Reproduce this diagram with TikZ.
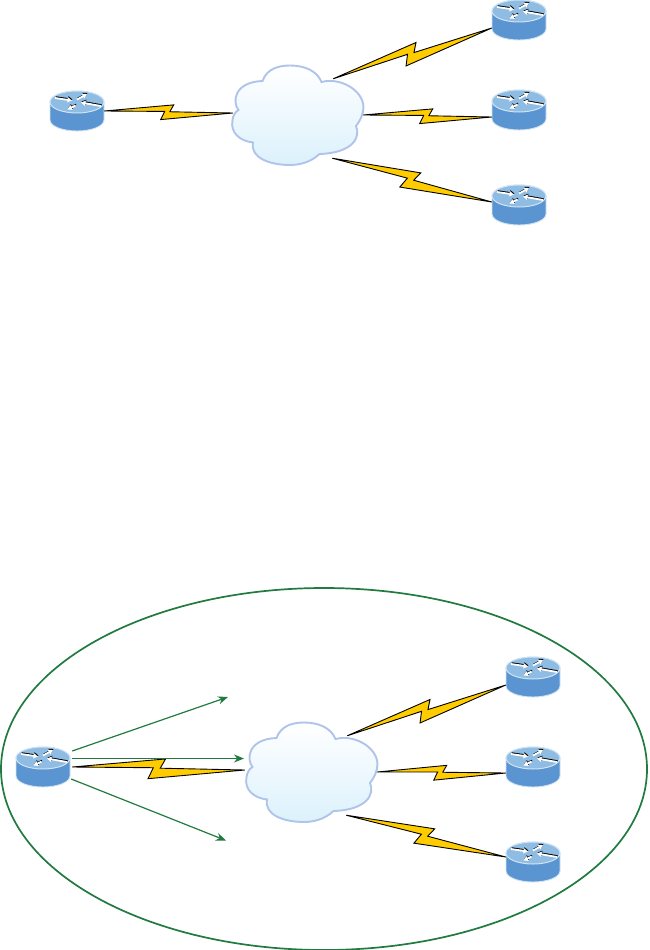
\documentclass[tikz,border=0pt]{standalone}
\usetikzlibrary{calc,arrows.meta,shapes.geometric}
\definecolor{rtop}{HTML}{8FBCE3}
\definecolor{rbody}{HTML}{5B95D1}
\definecolor{redge}{HTML}{CFE3F3}
\definecolor{cloudedge}{HTML}{AFC4EA}
\definecolor{cloudlow}{HTML}{DCF1FC}
\definecolor{boltfill}{HTML}{FFCC00}
\definecolor{ringgreen}{HTML}{217A3F}
\tikzset{
  routerbox/.style={rectangle,minimum width=54pt,minimum height=40pt,inner sep=0pt},
  cloudbox/.style={rectangle,minimum width=132pt,minimum height=100pt,inner sep=0pt},
  glyphtip/.style={-{Triangle[length=4.5pt,width=5pt]}},
  routerglyph/.style={glyphtip,draw=white,fill=white,line width=1.8pt},
  routershade/.style={glyphtip,draw=black,fill=black,line width=1.5pt,shift={(.5,-1)}},
  signal/.style={draw=ringgreen,line width=1.2pt,-{Stealth[length=10pt,width=8pt]}},
  ring/.style={draw=ringgreen,line width=1.7pt},
  boltshape/.style={draw=black,line width=.9pt,fill=boltfill,line join=miter,miter limit=3}
}
% lightning connector between two points
\newcommand{\bolt}[2]{%
  \draw[boltshape] (#1)
   -- ($(#1)!.54!(#2)+(#1)!.056!90:(#2)-(#1)$)
   -- ($(#1)!.51!(#2)+(#1)!.002!90:(#2)-(#1)$)
   -- (#2)
   -- ($(#1)!.44!(#2)+(#1)!-.06!90:(#2)-(#1)$)
   -- ($(#1)!.47!(#2)+(#1)!.004!90:(#2)-(#1)$)
   -- cycle;}
\newcommand{\routerglyphs}[1]{%
  \draw[#1] (-22,-13) -- (-5,-10.5);
  \draw[#1] (0,-11.5) -- (10,-17);
  \draw[#1] (24,-5) -- (4,-8.5);
  \draw[#1] (-1.5,-5.5) -- (-9.5,-1.5);}
% router drawn on a named node
\newcommand{\routerart}[1]{%
  \begin{scope}[shift={(#1.center)}]
    \fill[rbody,draw=redge,line width=.9pt] (-27,-9) -- (-27,9) arc[start angle=180,end angle=0,x radius=27,y radius=11] -- (27,-9) arc[start angle=0,end angle=-180,x radius=27,y radius=11] -- cycle;
    \fill[rtop,draw=redge,line width=1pt] (0,-9) ellipse[x radius=27,y radius=11];
    \routerglyphs{routershade}
    \routerglyphs{routerglyph}
  \end{scope}}
% cloud drawn on a named node
\newcommand{\cloudart}[1]{%
  \begin{scope}[shift={($(#1.center)+(-78,-65)$)}]
    \path[top color=white,bottom color=cloudlow,draw=cloudedge,line width=1.9pt]
      (42.5,31) .. controls (47,18) and (60,15.5) .. (70,15.5)
      .. controls (85,15.5) and (97,21) .. (101.5,32)
      .. controls (120,27) and (143,40) .. (143.5,57)
      .. controls (143.5,64) and (140,71) .. (136,76)
      .. controls (141,87) and (133,103) .. (99.5,104)
      .. controls (90,113) and (78,115) .. (70,115)
      .. controls (50,115) and (30,108) .. (33,92.5)
      .. controls (20,91) and (10,83) .. (12.5,70)
      .. controls (13,66) and (15,62) .. (18.5,60)
      .. controls (12,52) and (14,32) .. (42.5,31) -- cycle;
  \end{scope}}
\begin{document}
\begin{tikzpicture}[x=1pt,y=-1pt]
\useasboundingbox (0,0) rectangle (649,950);
% upper group
\node[routerbox] (a0) at (77,111) {};
\node[routerbox] (a1) at (519,20) {};
\node[routerbox] (a2) at (519,110) {};
\node[routerbox] (a3) at (519,205) {};
\node[cloudbox] (ca) at (298,115) {};
\cloudart{ca}
\routerart{a0}\routerart{a1}\routerart{a2}\routerart{a3}
\bolt{a0.east}{$(ca.west)+(1,-2)$}
\bolt{$(ca.east)+(-1,0)$}{$(a2.west)+(0,7)$}
\bolt{$(ca.north east)+(-31,14)$}{$(a1.west)+(0,8)$}
\bolt{$(ca.south east)+(-32,-7)$}{$(a3.west)+(0,-3)$}
% lower group
\node[ring,ellipse,minimum width=646pt,minimum height=362pt,inner sep=0pt] (zone) at (324,769) {};
\node[routerbox] (b0) at (43,767) {};
\node[routerbox] (b1) at (533,677) {};
\node[routerbox] (b2) at (533,767) {};
\node[routerbox] (b3) at (533,862) {};
\node[cloudbox] (cb) at (312,772) {};
\cloudart{cb}
\routerart{b0}\routerart{b1}\routerart{b2}\routerart{b3}
\bolt{$(b0.east)+(2,0)$}{$(cb.west)+(-1,-2)$}
\bolt{$(cb.east)+(-1,0)$}{$(b2.west)+(0,6)$}
\bolt{$(cb.north east)+(-31,14)$}{$(b1.west)+(0,8)$}
\bolt{$(cb.south east)+(-32,-7)$}{$(b3.west)+(0,-5)$}
\coordinate (t1) at (228,697);
\coordinate (t2) at (244,758.5);
\coordinate (t3) at (226,840.5);
\draw[signal] ($(b0.east)+(2,-16)$) -- (t1);
\draw[signal] ($(b0.east)+(2,-8.5)$) -- (t2);
\draw[signal] ($(b0.east)+(1,12)$) -- (t3);
\end{tikzpicture}
\end{document}
